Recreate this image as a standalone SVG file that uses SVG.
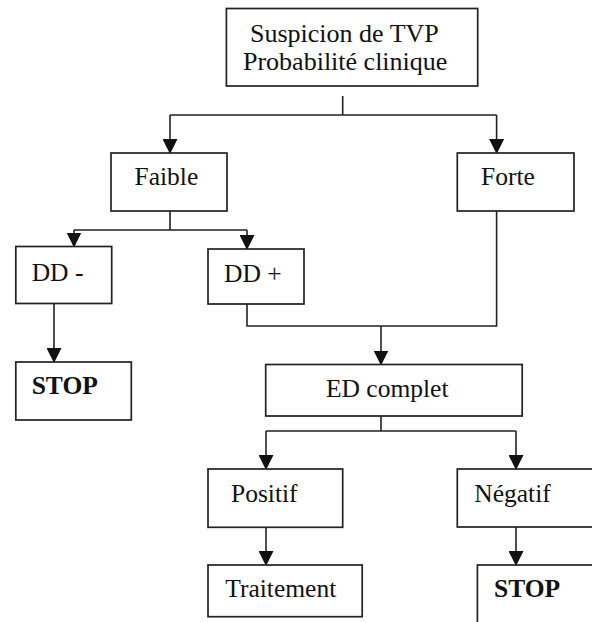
<svg xmlns="http://www.w3.org/2000/svg" width="592" height="622" viewBox="0 0 592 622">
  <style>
    .box { fill: #ffffff; stroke: #222222; stroke-width: 1.7; }
    .lbl { font-family: "Liberation Serif", "Times New Roman", serif; font-size: 25.5px; fill: #111111; }
    .big { font-size: 26px; }
    .bold { font-weight: bold; }
    .conn { fill: none; stroke: #222222; stroke-width: 1.6; }
  </style>
  <defs>
    <marker id="ah" viewBox="0 0 15 15" refX="14" refY="7.5" markerWidth="15" markerHeight="15" markerUnits="userSpaceOnUse" orient="auto">
      <path d="M0,0 L15,7.5 L0,15 Z" fill="#111111"/>
    </marker>
  </defs>
  <rect width="592" height="622" fill="#ffffff"/>

  <g id="connectors">
    <path class="conn" d="M342.7,96 V115 M170,115 H496.6"/>
    <path class="conn" d="M170,115 V153" marker-end="url(#ah)"/>
    <path class="conn" d="M496.6,115 V153" marker-end="url(#ah)"/>
    <path class="conn" d="M170,211 V230 M74,230 H247"/>
    <path class="conn" d="M74,230 V246.5" marker-end="url(#ah)"/>
    <path class="conn" d="M247,230 V249" marker-end="url(#ah)"/>
    <path class="conn" d="M54,304 V362" marker-end="url(#ah)"/>
    <path class="conn" d="M247,304 V326 H496.6 V211"/>
    <path class="conn" d="M381,326 V364.5" marker-end="url(#ah)"/>
    <path class="conn" d="M381,412 V431 M266,431 H516"/>
    <path class="conn" d="M266,431 V469" marker-end="url(#ah)"/>
    <path class="conn" d="M516,431 V469" marker-end="url(#ah)"/>
    <path class="conn" d="M266,527 V565" marker-end="url(#ah)"/>
    <path class="conn" d="M516,527 V565" marker-end="url(#ah)"/>
  </g>

  <g id="suspicion">
    <rect class="box" x="226.4" y="8.5" width="251.3" height="77.5"/>
    <text class="lbl big" x="250" y="42">Suspicion de TVP</text>
    <text class="lbl big" x="243" y="70">Probabilité clinique</text>
  </g>
  <g id="faible">
    <rect class="box" x="111" y="153" width="116" height="58"/>
    <text class="lbl" x="134.5" y="185">Faible</text>
  </g>
  <g id="forte">
    <rect class="box" x="457.3" y="153" width="116.7" height="58"/>
    <text class="lbl" x="481" y="185">Forte</text>
  </g>
  <g id="dd-moins">
    <rect class="box" x="15.8" y="246.5" width="95.9" height="57"/>
    <text class="lbl" x="31.7" y="281">DD -</text>
  </g>
  <g id="dd-plus">
    <rect class="box" x="208" y="249" width="96" height="55"/>
    <text class="lbl" x="224" y="282">DD +</text>
  </g>
  <g id="stop-gauche">
    <rect class="box" x="15.8" y="362" width="115.5" height="58"/>
    <text class="lbl bold" x="31.7" y="394">STOP</text>
  </g>
  <g id="ed-complet">
    <rect class="box" x="265.7" y="364.5" width="256.5" height="51.5"/>
    <text class="lbl" x="326" y="396.7">ED complet</text>
  </g>
  <g id="positif">
    <rect class="box" x="208" y="469" width="134.7" height="58.3"/>
    <text class="lbl" x="231" y="501.7">Positif</text>
  </g>
  <g id="negatif">
    <rect class="box" x="457.3" y="469" width="150" height="58"/>
    <text class="lbl" x="474.3" y="502">Négatif</text>
  </g>
  <g id="traitement">
    <rect class="box" x="208" y="565" width="154.2" height="51.7"/>
    <text class="lbl" x="225.3" y="596.7">Traitement</text>
  </g>
  <g id="stop-droite">
    <rect class="box" x="477.4" y="565" width="130" height="70"/>
    <text class="lbl bold" x="494" y="596.7">STOP</text>
  </g>
</svg>
